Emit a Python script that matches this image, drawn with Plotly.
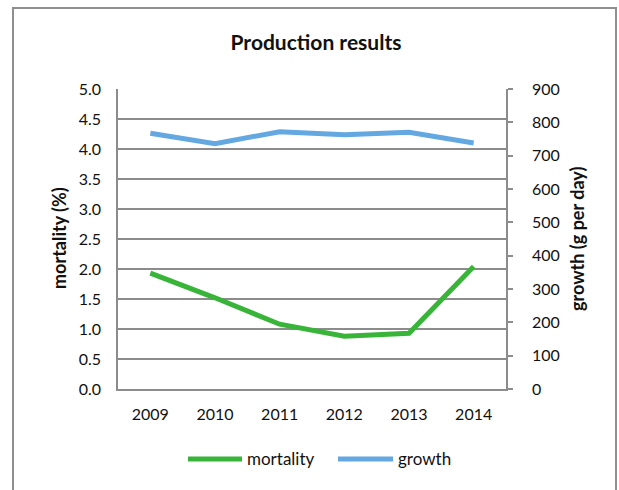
import plotly.graph_objects as go

# Production figures per year
years = ["2009", "2010", "2011", "2012", "2013", "2014"]
mortality = [1.93, 1.52, 1.08, 0.88, 0.93, 2.04]   # %
growth = [767, 736, 772, 763, 770, 738]             # g per day

series_names = ["mortality", "growth"]
series_colors = ["#38b538", "#64a8e2"]

FONT = "Lato"
GRID = "#8c8c8c"
TEXT = "#111111"

W, H = 619, 490
L, R, T, B = 118, 506, 89, 389   # plot area in pixels

fig = go.Figure()
fig.add_trace(go.Scatter(
    x=years, y=mortality, name=series_names[0], mode="lines",
    line=dict(color=series_colors[0], width=5), yaxis="y",
))
fig.add_trace(go.Scatter(
    x=years, y=growth, name=series_names[1], mode="lines",
    line=dict(color=series_colors[1], width=5), yaxis="y2",
))


def px_x(p):
    return (p - L) / (R - L)


def px_y(p):
    return (B - p) / (B - T)


shapes = [
    # outer chart frame
    dict(type="rect", xref="paper", yref="paper",
         x0=px_x(13), x1=px_x(616), y0=px_y(500), y1=px_y(8),
         line=dict(color="#8f8f8f", width=2), fillcolor="rgba(0,0,0,0)", layer="below"),
]

# legend: line swatch + label for each series
legend_items = [(188, 242, 245), (338, 393, 396)]
annotations = []
for (x0, x1, tx), name, col in zip(legend_items, series_names, series_colors):
    shapes.append(dict(type="line", xref="paper", yref="paper",
                       x0=px_x(x0), x1=px_x(x1), y0=px_y(459), y1=px_y(459),
                       line=dict(color=col, width=5)))
    annotations.append(dict(text=name, xref="paper", yref="paper",
                            x=px_x(tx), y=px_y(458), xanchor="left", yanchor="middle",
                            showarrow=False, font=dict(family=FONT, size=17, color=TEXT)))

# axis titles
annotations.append(dict(text="<b>mortality (%)</b>", xref="paper", yref="paper",
                        x=px_x(59), y=px_y(238), textangle=-90, showarrow=False,
                        xanchor="center", yanchor="middle",
                        font=dict(family=FONT, size=18, color=TEXT)))
annotations.append(dict(text="<b>growth (g per day)</b>", xref="paper", yref="paper",
                        x=px_x(577), y=px_y(239), textangle=-90, showarrow=False,
                        xanchor="center", yanchor="middle",
                        font=dict(family=FONT, size=18, color=TEXT)))

fig.update_layout(
    width=W, height=H,
    margin=dict(l=L, r=W - R, t=T, b=H - B),
    paper_bgcolor="white", plot_bgcolor="white",
    showlegend=False,
    title=dict(text="<b>Production results</b>", x=316 / W, xanchor="center",
               y=1 - 43 / H, yanchor="middle", yref="container",
               font=dict(family=FONT, size=21, color=TEXT)),
    font=dict(family=FONT, size=16, color=TEXT),
    xaxis=dict(
        type="category", range=[-0.5, 5.5],
        showgrid=False, showline=True, linecolor=GRID, linewidth=1.5,
        ticks="", ticklabelstandoff=10, zeroline=False,
        tickfont=dict(family=FONT, size=16, color=TEXT),
    ),
    yaxis=dict(
        range=[0, 5], dtick=0.5, tick0=0, tickformat=".1f",
        showgrid=True, gridcolor=GRID, gridwidth=1.5,
        showline=True, linecolor=GRID, linewidth=1.5,
        ticks="", ticklabelstandoff=12, zeroline=False,
        tickfont=dict(family=FONT, size=16, color=TEXT),
    ),
    yaxis2=dict(
        range=[0, 900], dtick=100, tick0=0, overlaying="y", side="right",
        showgrid=False, showline=True, linecolor=GRID, linewidth=1.5,
        ticks="outside", ticklen=5, tickcolor=GRID, tickwidth=1.5,
        ticklabelstandoff=16, zeroline=False,
        tickfont=dict(family=FONT, size=16, color=TEXT),
    ),
    shapes=shapes,
    annotations=annotations,
)

fig.write_html("out.html")
